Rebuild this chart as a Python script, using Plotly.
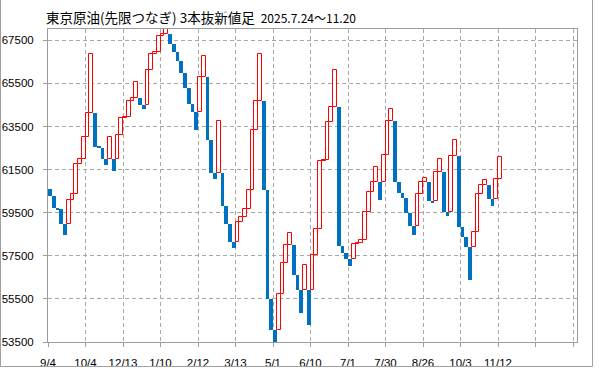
import plotly.graph_objects as go

# ---- data (three-line-break bars) ----
first_open = 60590
closes = [
    60277, 59719, 59672, 58960, 58448, 60075, 60386, 61781, 62013, 63036,
    64106, 66849, 62556, 62509, 62013, 61734, 63036, 61440, 63129, 63873,
    63920, 64664, 64803, 65547, 64493, 64322, 66105, 66849, 66942, 67686,
    67779, 68100, 67330, 66942, 66555, 65996, 65299, 64555, 64183, 63346,
    65810, 66787, 62881, 61346, 61068, 63765, 59812, 58975, 58138, 57859,
    59068, 59301, 59688, 60572, 63362, 64695, 66849, 60572, 55503, 54061,
    53488, 55705, 57177, 58014, 58572, 56619, 55922, 54852, 57084, 54294,
    57518, 58727, 61920, 61966, 63687, 64400, 66105, 57952, 57611, 57363,
    57022, 58060, 58107, 58246, 59533, 60478, 60913, 61641, 60091, 62199,
    63734, 64291, 60944, 60417, 60184, 59502, 58898, 58464, 60386, 60913,
    61130, 60045, 59952, 61378, 62013, 59533, 59347, 62153, 62897, 58851,
    58386, 57921, 56371, 58603, 60386, 60789, 61037, 60138, 59812, 61083,
    62090,
]
x_tick_pos = [0, 10, 20, 30, 40, 50, 60, 70, 80, 90, 100, 110, 120, 130, 140]
x_tick_text = ["9/4", "10/4", "12/13", "1/10", "2/12", "3/13", "5/1", "6/10",
               "7/1", "7/30", "8/26", "10/3", "11/12", "", ""]
y_ticks = [53500, 55500, 57500, 59500, 61500, 63500, 65500, 67500]
y_tick_text = ["53500", "55500", "57500", "59500", "61500", "63500", "65500", "67500"]
title_main = "東京原油(先限つなぎ) 3本抜新値足"
title_period = "2025.7.24～11.20"

# ---- build bars: up bars open at previous top, down bars at previous bottom ----
opens = []
for i, c in enumerate(closes):
    if i == 0:
        opens.append(first_open)
        continue
    hi = max(opens[i - 1], closes[i - 1])
    lo = min(opens[i - 1], closes[i - 1])
    opens.append(hi if c > hi else lo)

up_x, up_b, up_h, dn_x, dn_b, dn_h = [], [], [], [], [], []
for i, (o, c) in enumerate(zip(opens, closes)):
    if c > o:
        up_x.append(i + 0.5); up_b.append(o); up_h.append(c - o)
    else:
        dn_x.append(i + 0.5); dn_b.append(c); dn_h.append(o - c)

fig = go.Figure()
fig.add_trace(go.Bar(x=dn_x, y=dn_h, base=dn_b, width=1,
                     marker=dict(color="#0070c0", line=dict(width=0)),
                     showlegend=False))
fig.add_trace(go.Bar(x=up_x, y=up_h, base=up_b, width=1,
                     marker=dict(color="white", line=dict(color="#ff0000", width=1)),
                     showlegend=False))

W, H = 599, 369
L, R, T, B = 48, 22, 29, 27
pw, ph = W - L - R, H - T - B

axis_common = dict(
    showgrid=True, gridcolor="#a8a8a8", gridwidth=1, griddash="4px,3px",
    showline=True, linecolor="#9c9c9c", linewidth=1, mirror=True,
    ticks="outside", ticklen=4, tickcolor="#9c9c9c",
    zeroline=False, automargin=False,
    tickfont=dict(family="Liberation Sans", size=11.5, color="#000000"),
)

fig.update_layout(
    width=W, height=H,
    margin=dict(l=L, r=R, t=T, b=B, pad=0, autoexpand=False),
    paper_bgcolor="white", plot_bgcolor="white",
    barmode="overlay", bargap=0,
    xaxis=dict(range=[0, pw / 3.75], tickmode="array", tickvals=x_tick_pos,
               ticktext=x_tick_text, ticklabelstandoff=6, **axis_common),
    yaxis=dict(range=[53500, 68026], tickmode="array", tickvals=y_ticks,
               ticktext=y_tick_text, ticklabelstandoff=7, **axis_common),
    annotations=[dict(
        xref="paper", yref="paper",
        x=(44 - L) / pw, y=(H - B - 17) / ph,
        xanchor="left", yanchor="middle", showarrow=False,
        text=title_main + "  <span style='font-size:12px'>" + title_period + "</span>",
        font=dict(family="Noto Sans CJK JP", size=13.5, color="#000000"),
    )],
    shapes=[
        dict(type="line", xref="paper", yref="paper", layer="above",
             x0=(0.5 - L) / pw, x1=(0.5 - L) / pw,
             y0=(H - B - 366.5) / ph, y1=(H - B - 0) / ph,
             line=dict(color="#a0a0a0", width=1)),
        dict(type="line", xref="paper", yref="paper", layer="above",
             x0=(0.5 - L) / pw, x1=(592.5 - L) / pw,
             y0=(H - B - 366.5) / ph, y1=(H - B - 366.5) / ph,
             line=dict(color="#a0a0a0", width=1)),
        dict(type="line", xref="paper", yref="paper", layer="above",
             x0=(592.5 - L) / pw, x1=(592.5 - L) / pw,
             y0=(H - B - 366.5) / ph, y1=(H - B - 0) / ph,
             line=dict(color="#a0a0a0", width=1)),
    ],
)

fig.write_html("out.html", config={"displayModeBar": False},
               post_script="document.body.style.margin='0px';")
